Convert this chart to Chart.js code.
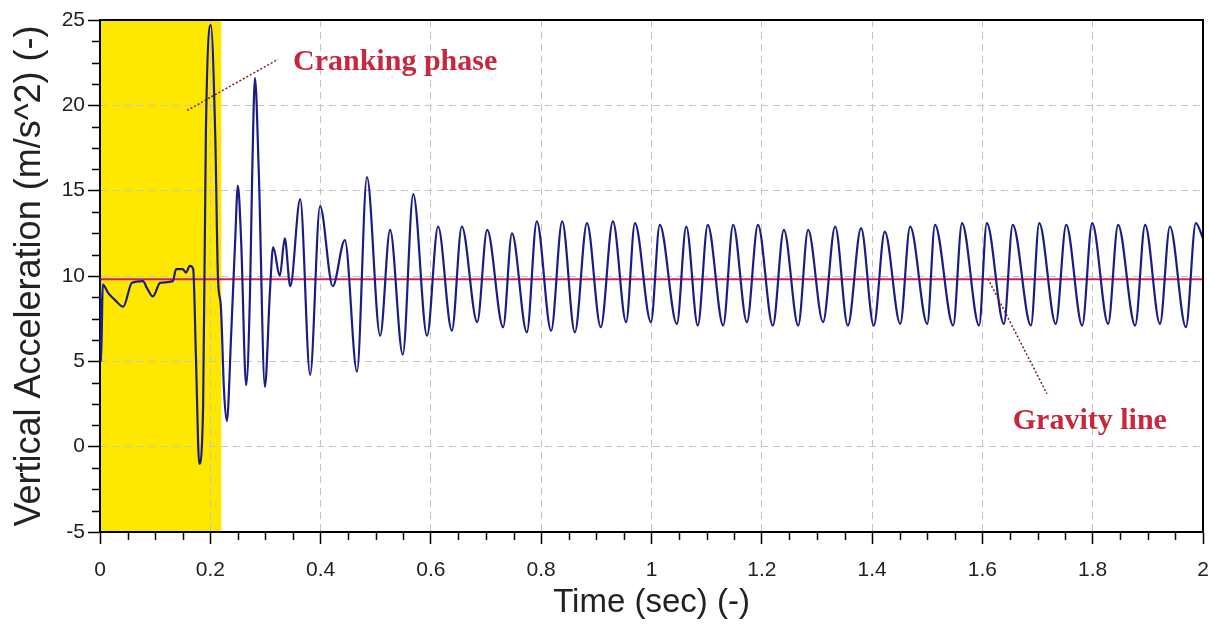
<!DOCTYPE html>
<html>
<head>
<meta charset="utf-8">
<script src="https://cdn.jsdelivr.net/npm/chart.js@4.4.1/dist/chart.umd.min.js"></script>
<style>
  html, body { margin: 0; padding: 0; background: #fff; }
</style>
</head>
<body>
<canvas id="accelChart" width="1214" height="625"></canvas>
<script>
// time (s) of each read point of the acceleration trace
const timeSec = [
  0.000, 0.002, 0.005, 0.015, 0.027, 0.042, 0.058, 0.078, 0.085, 0.096,
  0.109, 0.132, 0.138, 0.150, 0.156, 0.163, 0.169, 0.174, 0.180, 0.187,
  0.192, 0.201, 0.209, 0.214, 0.219, 0.225, 0.230, 0.238, 0.245, 0.250,
  0.256, 0.265, 0.272, 0.276, 0.281, 0.288, 0.299, 0.308, 0.314, 0.326,
  0.335, 0.345, 0.363, 0.381, 0.399, 0.422, 0.444, 0.466, 0.484, 0.508,
  0.526, 0.549, 0.568, 0.593, 0.613, 0.638,
  0.656, 0.684, 0.702, 0.731, 0.747, 0.774, 0.792, 0.818, 0.838, 0.861,
  0.883, 0.908, 0.930, 0.954, 0.970, 0.999, 1.015, 1.046, 1.063, 1.084,
  1.102, 1.130, 1.148, 1.173, 1.193, 1.220, 1.240, 1.266, 1.284, 1.311,
  1.333, 1.356, 1.380, 1.403, 1.423, 1.451, 1.469, 1.500, 1.514, 1.547,
  1.563, 1.594, 1.608, 1.639, 1.655, 1.688, 1.703, 1.733, 1.752, 1.781,
  1.799, 1.828, 1.846, 1.877, 1.895, 1.922, 1.940, 1.969, 1.987, 2.000
];

// vertical acceleration (m/s^2) at those times
const verticalAccel = [
  9.9, 5.0, 9.5, 9.0, 8.6, 8.2, 9.6, 9.7, 9.3, 8.8,
  9.6, 9.7, 10.4, 10.4, 10.2, 10.6, 10.4, 5.2, -1.0, 2.4,
  18.4, 24.7, 18.2, 9.8, 8.3, 3.2, 1.5, 6.7, 12.0, 15.3,
  12.0, 3.6, 9.0, 16.0, 21.6, 16.0, 3.5, 9.0, 11.7, 10.0,
  12.2, 9.4, 14.5, 4.2, 14.1, 9.4, 12.1, 4.4, 15.8, 6.5,
  12.7, 5.4, 14.8, 6.5, 12.9, 6.8,
  12.9, 7.3, 12.7, 7.0, 12.5, 6.7, 13.2, 6.8, 13.2, 6.7,
  13.1, 7.0, 13.2, 7.3, 13.1, 7.3, 13.0, 7.2, 12.9, 7.1,
  13.0, 7.1, 13.0, 7.3, 13.0, 7.1, 12.7, 7.1, 12.7, 7.3,
  12.9, 7.1, 12.8, 7.1, 12.6, 7.2, 12.9, 7.2, 13.0, 7.1,
  13.1, 7.1, 13.1, 7.2, 13.0, 7.1, 13.1, 7.2, 13.0, 7.1,
  13.1, 7.2, 13.0, 7.1, 13.0, 7.2, 12.9, 7.0, 13.1, 12.2
];

const gravity = 9.81;
const crankingEnd = 0.22;

const timeTicks = [0, 0.2, 0.4, 0.6, 0.8, 1, 1.2, 1.4, 1.6, 1.8, 2];
const timeTickLabels = ['0', '0.2', '0.4', '0.6', '0.8', '1', '1.2', '1.4', '1.6', '1.8', '2'];
const accelTicks = [-5, 0, 5, 10, 15, 20, 25];
const accelTickLabels = ['-5', '0', '5', '10', '15', '20', '25'];

// annotation text + pointer ends, in data units
const notes = [
  { text: 'Cranking phase', at: [0.350, 22.5], from: [0.158, 19.7], to: [0.323, 22.7] },
  { text: 'Gravity line', at: [1.655, 1.5], from: [1.610, 9.84], to: [1.717, 3.1] }
];

const sans = 'Arial, "Liberation Sans", sans-serif';

const decor = {
  id: 'decor',
  beforeDraw(chart) {
    const { ctx, chartArea: a, scales: { x } } = chart;
    ctx.save();
    ctx.fillStyle = '#fff';
    ctx.fillRect(0, 0, chart.width, chart.height);
    ctx.fillStyle = '#ffe800';
    ctx.fillRect(a.left, a.top, x.getPixelForValue(crankingEnd) - a.left, a.bottom - a.top);
    ctx.restore();
  },
  afterDatasetsDraw(chart) {
    const { ctx, scales: { x, y } } = chart;
    ctx.save();
    notes.forEach(n => {
      ctx.strokeStyle = '#7a2222';
      ctx.lineWidth = 1.5;
      ctx.setLineDash([2, 2]);
      ctx.beginPath();
      ctx.moveTo(x.getPixelForValue(n.from[0]), y.getPixelForValue(n.from[1]));
      ctx.lineTo(x.getPixelForValue(n.to[0]), y.getPixelForValue(n.to[1]));
      ctx.stroke();
      ctx.setLineDash([]);
      ctx.fillStyle = '#c8283c';
      ctx.font = 'bold 30px "Liberation Serif", "Times New Roman", serif';
      ctx.textAlign = 'left';
      ctx.textBaseline = 'middle';
      ctx.fillText(n.text, x.getPixelForValue(n.at[0]), y.getPixelForValue(n.at[1]));
    });
    ctx.restore();
  },
  afterDraw(chart) {
    const { ctx, chartArea: a, scales: { x, y } } = chart;
    ctx.save();
    ctx.strokeStyle = '#000';
    // top and right frame
    ctx.lineWidth = 2;
    ctx.beginPath();
    ctx.moveTo(a.left, a.top);
    ctx.lineTo(a.right, a.top);
    ctx.lineTo(a.right, a.bottom);
    ctx.stroke();
    // minor ticks
    ctx.lineWidth = 1.5;
    ctx.beginPath();
    for (let i = 1; i < 40; i++) {
      if (i % 4 === 0) continue;
      const px = Math.round(x.getPixelForValue(i * 0.05)) + 0.5;
      ctx.moveTo(px, a.bottom);
      ctx.lineTo(px, a.bottom + 8);
    }
    for (let i = 1; i < 24; i++) {
      if (i % 4 === 0) continue;
      const py = Math.round(y.getPixelForValue(-5 + i * 1.25)) + 0.5;
      ctx.moveTo(a.left, py);
      ctx.lineTo(a.left - 8, py);
    }
    ctx.stroke();
    // time tick labels
    ctx.fillStyle = '#222';
    ctx.font = '21px ' + sans;
    ctx.textAlign = 'center';
    ctx.textBaseline = 'middle';
    timeTicks.forEach((v, i) => {
      ctx.fillText(timeTickLabels[i], x.getPixelForValue(v), a.bottom + 38);
    });
    ctx.restore();
  }
};

const ctx = document.getElementById('accelChart').getContext('2d');
const chart = new Chart(ctx, {
  type: 'line',
  data: {
    datasets: [
      {
        label: 'Vertical acceleration',
        data: timeSec.map((t, i) => ({ x: t, y: verticalAccel[i] })),
        borderColor: '#1c1c86',
        borderWidth: 2.2,
        pointRadius: 0,
        cubicInterpolationMode: 'monotone'
      },
      {
        label: 'Gravity',
        data: [{ x: 0, y: gravity }, { x: 2, y: gravity }],
        borderColor: '#cc2458',
        borderWidth: 2,
        pointRadius: 0
      }
    ]
  },
  options: {
    responsive: false,
    animation: false,
    layout: { padding: { top: 20, right: 11, left: 0, bottom: 0 } },
    plugins: {
      legend: { display: false },
      tooltip: { enabled: false }
    },
    scales: {
      x: {
        type: 'linear',
        min: 0,
        max: 2,
        afterFit: s => { s.height = 93; },
        afterBuildTicks: s => { s.ticks = timeTicks.map(v => ({ value: v })); },
        ticks: { display: false, autoSkip: false, maxRotation: 0 },
        grid: { color: '#c4c4c4', lineWidth: 1, tickLength: 12, tickColor: '#000', tickWidth: 1.5 },
        border: { display: true, color: '#000', width: 2, dash: [7, 5] },
        title: {
          display: true,
          text: 'Time (sec) (-)',
          color: '#222',
          font: { family: sans, size: 33 },
          padding: { top: 0, bottom: 2 }
        }
      },
      y: {
        min: -5,
        max: 25,
        afterFit: s => { s.width = 100; },
        afterBuildTicks: s => { s.ticks = accelTicks.map(v => ({ value: v })); },
        ticks: {
          callback: (v, i) => accelTickLabels[i],
          color: '#222',
          font: { family: sans, size: 21 },
          padding: 3,
          autoSkip: false
        },
        grid: { color: '#c4c4c4', lineWidth: 1, tickLength: 12, tickColor: '#000', tickWidth: 1.5 },
        border: { display: true, color: '#000', width: 2, dash: [7, 5] },
        title: {
          display: true,
          text: 'Vertical Acceleration (m/s^2) (-)',
          color: '#222',
          font: { family: sans, size: 36 },
          padding: { top: 8, bottom: 0 }
        }
      }
    }
  },
  plugins: [decor]
});
</script>
</body>
</html>
